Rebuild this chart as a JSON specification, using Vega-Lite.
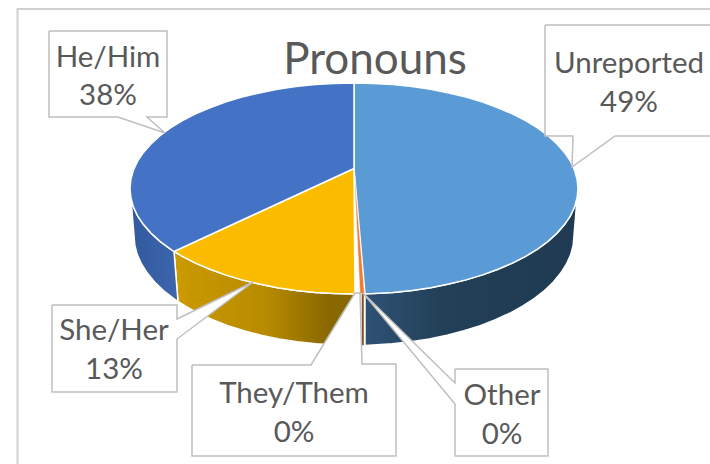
{"$schema":"https://vega.github.io/schema/vega-lite/v6.json","width":710,"height":464,"padding":0,"autosize":{"type":"none"},"background":"white","title":{"text":"Pronouns","font":"Lato","fontSize":44,"fontWeight":"normal","color":"#595959","anchor":"middle","dx":20,"offset":-83},"config":{"view":{"stroke":null}},
"datasets":{"labels":[{"label":"He/Him","x":-246,"y":131},{"label":"38%","x":-246,"y":93},{"label":"Unreported","x":275,"y":125},{"label":"49%","x":275,"y":86},{"label":"She/Her","x":-240,"y":-142},{"label":"13%","x":-240,"y":-181},{"label":"They/Them","x":-60,"y":-205},{"label":"0%","x":-60,"y":-244},{"label":"Other","x":148,"y":-207},{"label":"0%","x":148,"y":-246}],
"shapes":[
{"part":"frame","i":0,"x":-336.5,"y":-275.5},{"part":"frame","i":1,"x":-336.5,"y":179.5},{"part":"frame","i":2,"x":356,"y":179.5},
{"part":"uside","i":0,"x":223.1,"y":-9.2},{"part":"uside","i":1,"x":220.6,"y":-18.3},{"part":"uside","i":2,"x":216.4,"y":-27.3},{"part":"uside","i":3,"x":210.5,"y":-36.1},{"part":"uside","i":4,"x":203,"y":-44.6},{"part":"uside","i":5,"x":194,"y":-52.8},{"part":"uside","i":6,"x":183.5,"y":-60.6},{"part":"uside","i":7,"x":171.6,"y":-67.8},{"part":"uside","i":8,"x":158.4,"y":-74.6},{"part":"uside","i":9,"x":144,"y":-80.8},{"part":"uside","i":10,"x":128.6,"y":-86.4},{"part":"uside","i":11,"x":112,"y":-91.4},{"part":"uside","i":12,"x":94.8,"y":-95.6},{"part":"uside","i":13,"x":76.6,"y":-99.2},{"part":"uside","i":14,"x":58,"y":-101.9},{"part":"uside","i":15,"x":38.9,"y":-103.9},{"part":"uside","i":16,"x":19.5,"y":-105.1},{"part":"uside","i":17,"x":11,"y":-105.3},{"part":"uside","i":18,"x":11,"y":-157},{"part":"uside","i":19,"x":19.2,"y":-156.6},{"part":"uside","i":20,"x":38.2,"y":-155.3},{"part":"uside","i":21,"x":56.9,"y":-153.3},{"part":"uside","i":22,"x":75.2,"y":-150.4},{"part":"uside","i":23,"x":93,"y":-146.7},{"part":"uside","i":24,"x":110,"y":-142.3},{"part":"uside","i":25,"x":126.2,"y":-137.1},{"part":"uside","i":26,"x":141.4,"y":-131.3},{"part":"uside","i":27,"x":155.6,"y":-124.8},{"part":"uside","i":28,"x":168.5,"y":-117.7},{"part":"uside","i":29,"x":180.2,"y":-110.1},{"part":"uside","i":30,"x":190.5,"y":-102},{"part":"uside","i":31,"x":199.4,"y":-93.5},{"part":"uside","i":32,"x":206.7,"y":-84.6},{"part":"uside","i":33,"x":212.5,"y":-75.5},{"part":"uside","i":34,"x":216.7,"y":-66.1},{"part":"uside","i":35,"x":219.2,"y":-56.6},{"part":"uside","i":36,"x":220,"y":-47},{"part":"uside","i":37,"x":223.1,"y":-9.2},
{"part":"oside","i":0,"x":7.5,"y":-105},{"part":"oside","i":1,"x":10,"y":-105},{"part":"oside","i":2,"x":10,"y":-157},{"part":"oside","i":3,"x":7.5,"y":-157},{"part":"oside","i":4,"x":7.5,"y":-105},
{"part":"sside","i":0,"x":-180,"y":-63},{"part":"sside","i":1,"x":-171.6,"y":-67.8},{"part":"sside","i":2,"x":-158.4,"y":-74.6},{"part":"sside","i":3,"x":-144,"y":-80.8},{"part":"sside","i":4,"x":-128.6,"y":-86.4},{"part":"sside","i":5,"x":-112,"y":-91.4},{"part":"sside","i":6,"x":-94.8,"y":-95.6},{"part":"sside","i":7,"x":-76.6,"y":-99.2},{"part":"sside","i":8,"x":-58,"y":-101.9},{"part":"sside","i":9,"x":-38.9,"y":-103.9},{"part":"sside","i":10,"x":-19.5,"y":-105.1},{"part":"sside","i":11,"x":1,"y":-105.5},{"part":"sside","i":12,"x":1,"y":-157},{"part":"sside","i":13,"x":-19.2,"y":-156.6},{"part":"sside","i":14,"x":-38.2,"y":-155.3},{"part":"sside","i":15,"x":-56.9,"y":-153.3},{"part":"sside","i":16,"x":-75.2,"y":-150.4},{"part":"sside","i":17,"x":-93,"y":-146.7},{"part":"sside","i":18,"x":-110,"y":-142.3},{"part":"sside","i":19,"x":-126.2,"y":-137.1},{"part":"sside","i":20,"x":-141.4,"y":-131.3},{"part":"sside","i":21,"x":-155.6,"y":-124.8},{"part":"sside","i":22,"x":-168.5,"y":-117.7},{"part":"sside","i":23,"x":-176,"y":-113},{"part":"sside","i":24,"x":-180,"y":-63},
{"part":"hside","i":0,"x":-223.1,"y":-9.2},{"part":"hside","i":1,"x":-220.6,"y":-18.3},{"part":"hside","i":2,"x":-216.4,"y":-27.3},{"part":"hside","i":3,"x":-210.5,"y":-36.1},{"part":"hside","i":4,"x":-203,"y":-44.6},{"part":"hside","i":5,"x":-194,"y":-52.8},{"part":"hside","i":6,"x":-183.5,"y":-60.6},{"part":"hside","i":7,"x":-180,"y":-63},{"part":"hside","i":8,"x":-176,"y":-113},{"part":"hside","i":9,"x":-180.2,"y":-110.1},{"part":"hside","i":10,"x":-190.5,"y":-102},{"part":"hside","i":11,"x":-199.4,"y":-93.5},{"part":"hside","i":12,"x":-206.7,"y":-84.6},{"part":"hside","i":13,"x":-212.5,"y":-75.5},{"part":"hside","i":14,"x":-216.7,"y":-66.1},{"part":"hside","i":15,"x":-219.2,"y":-56.6},{"part":"hside","i":16,"x":-220,"y":-47},{"part":"hside","i":17,"x":-223.1,"y":-9.2},
{"part":"utop","i":0,"x":0,"y":20},{"part":"utop","i":1,"x":0,"y":105.5},{"part":"utop","i":2,"x":19.5,"y":105.1},{"part":"utop","i":3,"x":38.9,"y":103.9},{"part":"utop","i":4,"x":58,"y":101.9},{"part":"utop","i":5,"x":76.6,"y":99.2},{"part":"utop","i":6,"x":94.8,"y":95.6},{"part":"utop","i":7,"x":112,"y":91.4},{"part":"utop","i":8,"x":128.6,"y":86.4},{"part":"utop","i":9,"x":144,"y":80.8},{"part":"utop","i":10,"x":158.4,"y":74.6},{"part":"utop","i":11,"x":171.6,"y":67.8},{"part":"utop","i":12,"x":183.5,"y":60.6},{"part":"utop","i":13,"x":194,"y":52.8},{"part":"utop","i":14,"x":203,"y":44.6},{"part":"utop","i":15,"x":210.5,"y":36.1},{"part":"utop","i":16,"x":216.4,"y":27.3},{"part":"utop","i":17,"x":220.6,"y":18.3},{"part":"utop","i":18,"x":223.1,"y":9.2},{"part":"utop","i":19,"x":224,"y":0},{"part":"utop","i":20,"x":223.1,"y":-9.2},{"part":"utop","i":21,"x":220.6,"y":-18.3},{"part":"utop","i":22,"x":216.4,"y":-27.3},{"part":"utop","i":23,"x":210.5,"y":-36.1},{"part":"utop","i":24,"x":203,"y":-44.6},{"part":"utop","i":25,"x":194,"y":-52.8},{"part":"utop","i":26,"x":183.5,"y":-60.6},{"part":"utop","i":27,"x":171.6,"y":-67.8},{"part":"utop","i":28,"x":158.4,"y":-74.6},{"part":"utop","i":29,"x":144,"y":-80.8},{"part":"utop","i":30,"x":128.6,"y":-86.4},{"part":"utop","i":31,"x":112,"y":-91.4},{"part":"utop","i":32,"x":94.8,"y":-95.6},{"part":"utop","i":33,"x":76.6,"y":-99.2},{"part":"utop","i":34,"x":58,"y":-101.9},{"part":"utop","i":35,"x":38.9,"y":-103.9},{"part":"utop","i":36,"x":19.5,"y":-105.1},{"part":"utop","i":37,"x":11,"y":-105.3},{"part":"utop","i":38,"x":0,"y":20},
{"part":"otop","i":0,"x":0,"y":20},{"part":"otop","i":1,"x":10.5,"y":-105.3},{"part":"otop","i":2,"x":6,"y":-105.4},{"part":"otop","i":3,"x":0,"y":20},
{"part":"stop","i":0,"x":0,"y":20},{"part":"stop","i":1,"x":1,"y":-105.5},{"part":"stop","i":2,"x":-19.5,"y":-105.1},{"part":"stop","i":3,"x":-38.9,"y":-103.9},{"part":"stop","i":4,"x":-58,"y":-101.9},{"part":"stop","i":5,"x":-76.6,"y":-99.2},{"part":"stop","i":6,"x":-94.8,"y":-95.6},{"part":"stop","i":7,"x":-112,"y":-91.4},{"part":"stop","i":8,"x":-128.6,"y":-86.4},{"part":"stop","i":9,"x":-144,"y":-80.8},{"part":"stop","i":10,"x":-158.4,"y":-74.6},{"part":"stop","i":11,"x":-171.6,"y":-67.8},{"part":"stop","i":12,"x":-180,"y":-63},{"part":"stop","i":13,"x":0,"y":20},
{"part":"htop","i":0,"x":0,"y":20},{"part":"htop","i":1,"x":-180,"y":-63},{"part":"htop","i":2,"x":-183.5,"y":-60.6},{"part":"htop","i":3,"x":-194,"y":-52.8},{"part":"htop","i":4,"x":-203,"y":-44.6},{"part":"htop","i":5,"x":-210.5,"y":-36.1},{"part":"htop","i":6,"x":-216.4,"y":-27.3},{"part":"htop","i":7,"x":-220.6,"y":-18.3},{"part":"htop","i":8,"x":-223.1,"y":-9.2},{"part":"htop","i":9,"x":-224,"y":0},{"part":"htop","i":10,"x":-223.1,"y":9.2},{"part":"htop","i":11,"x":-220.6,"y":18.3},{"part":"htop","i":12,"x":-216.4,"y":27.3},{"part":"htop","i":13,"x":-210.5,"y":36.1},{"part":"htop","i":14,"x":-203,"y":44.6},{"part":"htop","i":15,"x":-194,"y":52.8},{"part":"htop","i":16,"x":-183.5,"y":60.6},{"part":"htop","i":17,"x":-171.6,"y":67.8},{"part":"htop","i":18,"x":-158.4,"y":74.6},{"part":"htop","i":19,"x":-144,"y":80.8},{"part":"htop","i":20,"x":-128.6,"y":86.4},{"part":"htop","i":21,"x":-112,"y":91.4},{"part":"htop","i":22,"x":-94.8,"y":95.6},{"part":"htop","i":23,"x":-76.6,"y":99.2},{"part":"htop","i":24,"x":-58,"y":101.9},{"part":"htop","i":25,"x":-38.9,"y":103.9},{"part":"htop","i":26,"x":-19.5,"y":105.1},{"part":"htop","i":27,"x":0,"y":105.5},{"part":"htop","i":28,"x":0,"y":20},
{"part":"callout_he","i":0,"x":-305,"y":157.5},{"part":"callout_he","i":1,"x":-187,"y":157.5},{"part":"callout_he","i":2,"x":-187,"y":71.5},{"part":"callout_he","i":3,"x":-207,"y":71.5},{"part":"callout_he","i":4,"x":-189,"y":55.5},{"part":"callout_he","i":5,"x":-236,"y":71.5},{"part":"callout_he","i":6,"x":-305,"y":71.5},{"part":"callout_he","i":7,"x":-305,"y":157.5},
{"part":"callout_un","i":0,"x":191,"y":163.5},{"part":"callout_un","i":1,"x":362,"y":163.5},{"part":"callout_un","i":2,"x":362,"y":52.5},{"part":"callout_un","i":3,"x":261,"y":52.5},{"part":"callout_un","i":4,"x":218,"y":21.5},{"part":"callout_un","i":5,"x":219,"y":52.5},{"part":"callout_un","i":6,"x":191,"y":52.5},{"part":"callout_un","i":7,"x":191,"y":163.5},
{"part":"callout_sh","i":0,"x":-302,"y":-116.5},{"part":"callout_sh","i":1,"x":-177,"y":-116.5},{"part":"callout_sh","i":2,"x":-177,"y":-130.5},{"part":"callout_sh","i":3,"x":-101,"y":-93.5},{"part":"callout_sh","i":4,"x":-177,"y":-150.5},{"part":"callout_sh","i":5,"x":-177,"y":-203.5},{"part":"callout_sh","i":6,"x":-302,"y":-203.5},{"part":"callout_sh","i":7,"x":-302,"y":-116.5},
{"part":"callout_th","i":0,"x":-162,"y":-176.5},{"part":"callout_th","i":1,"x":-43,"y":-176.5},{"part":"callout_th","i":2,"x":1,"y":-104.5},{"part":"callout_th","i":3,"x":6,"y":-104.5},{"part":"callout_th","i":4,"x":8,"y":-175.5},{"part":"callout_th","i":5,"x":42,"y":-175.5},{"part":"callout_th","i":6,"x":42,"y":-267.5},{"part":"callout_th","i":7,"x":-162,"y":-267.5},{"part":"callout_th","i":8,"x":-162,"y":-176.5},
{"part":"callout_ot","i":0,"x":101,"y":-180.5},{"part":"callout_ot","i":1,"x":194,"y":-180.5},{"part":"callout_ot","i":2,"x":194,"y":-267.5},{"part":"callout_ot","i":3,"x":101,"y":-267.5},{"part":"callout_ot","i":4,"x":101,"y":-215.5},{"part":"callout_ot","i":5,"x":9,"y":-104.5},{"part":"callout_ot","i":6,"x":101,"y":-194.5},{"part":"callout_ot","i":7,"x":101,"y":-180.5}
]},
"encoding":{"x":{"field":"x","type":"quantitative","scale":{"domain":[-354,356],"nice":false,"zero":false},"axis":null},"y":{"field":"y","type":"quantitative","scale":{"domain":[-275.5,188.5],"nice":false,"zero":false},"axis":null}},
"layer":[
{"data":{"name":"shapes"},"transform":[{"filter":"datum.part==='frame'"}],"mark":{"type":"line","stroke":"#d0d0d0","strokeWidth":2,"clip":false},"encoding":{"order":{"field":"i"}}},
{"data":{"name":"shapes"},"transform":[{"filter":"datum.part==='uside'"}],"mark":{"type":"line","stroke":"white","strokeWidth":1.5,"fill":{"gradient":"linear","x1":0,"x2":1,"y1":0,"y2":0,"stops":[{"offset":0,"color":"#2e5275"},{"offset":0.35,"color":"#234059"},{"offset":1,"color":"#1f3a52"}]}},"encoding":{"order":{"field":"i"}}},
{"data":{"name":"shapes"},"transform":[{"filter":"datum.part==='oside'"}],"mark":{"type":"line","stroke":"#ffffff","strokeWidth":0.5,"fill":"#8b4a20"},"encoding":{"order":{"field":"i"}}},
{"data":{"name":"shapes"},"transform":[{"filter":"datum.part==='sside'"}],"mark":{"type":"line","stroke":"white","strokeWidth":1.5,"fill":{"gradient":"linear","x1":0,"x2":1,"y1":0,"y2":0,"stops":[{"offset":0,"color":"#cc9a00"},{"offset":0.5,"color":"#b88b00"},{"offset":0.85,"color":"#8a6800"},{"offset":1,"color":"#8a6800"}]}},"encoding":{"order":{"field":"i"}}},
{"data":{"name":"shapes"},"transform":[{"filter":"datum.part==='hside'"}],"mark":{"type":"line","stroke":"white","strokeWidth":1.5,"fill":{"gradient":"linear","x1":0,"x2":1,"y1":0,"y2":0,"stops":[{"offset":0,"color":"#335a9e"},{"offset":1,"color":"#3c65ae"}]}},"encoding":{"order":{"field":"i"}}},
{"data":{"name":"shapes"},"transform":[{"filter":"datum.part==='utop'"}],"mark":{"type":"line","stroke":"white","strokeWidth":1.5,"fill":"#5b9bd5"},"encoding":{"order":{"field":"i"}}},
{"data":{"name":"shapes"},"transform":[{"filter":"datum.part==='otop'"}],"mark":{"type":"line","stroke":"white","strokeWidth":0.5,"fill":"#ed7d31"},"encoding":{"order":{"field":"i"}}},
{"data":{"name":"shapes"},"transform":[{"filter":"datum.part==='stop'"}],"mark":{"type":"line","stroke":"white","strokeWidth":1.5,"fill":"#fbbc00"},"encoding":{"order":{"field":"i"}}},
{"data":{"name":"shapes"},"transform":[{"filter":"datum.part==='htop'"}],"mark":{"type":"line","stroke":"white","strokeWidth":1.5,"fill":"#4472c4"},"encoding":{"order":{"field":"i"}}},
{"data":{"name":"shapes"},"transform":[{"filter":"datum.part==='callout_he'"}],"mark":{"type":"line","stroke":"#bfbfbf","strokeWidth":1.5,"fill":"white"},"encoding":{"order":{"field":"i"}}},
{"data":{"name":"shapes"},"transform":[{"filter":"datum.part==='callout_un'"}],"mark":{"type":"line","stroke":"#bfbfbf","strokeWidth":1.5,"fill":"white"},"encoding":{"order":{"field":"i"}}},
{"data":{"name":"shapes"},"transform":[{"filter":"datum.part==='callout_sh'"}],"mark":{"type":"line","stroke":"#bfbfbf","strokeWidth":1.5,"fill":"white"},"encoding":{"order":{"field":"i"}}},
{"data":{"name":"shapes"},"transform":[{"filter":"datum.part==='callout_th'"}],"mark":{"type":"line","stroke":"#bfbfbf","strokeWidth":1.5,"fill":"white"},"encoding":{"order":{"field":"i"}}},
{"data":{"name":"shapes"},"transform":[{"filter":"datum.part==='callout_ot'"}],"mark":{"type":"line","stroke":"#bfbfbf","strokeWidth":1.5,"fill":"white"},"encoding":{"order":{"field":"i"}}},
{"data":{"name":"labels"},"mark":{"type":"text","font":"Lato","fontSize":29.5,"color":"#595959","align":"center","baseline":"middle"},"encoding":{"text":{"field":"label"}}}
]}
